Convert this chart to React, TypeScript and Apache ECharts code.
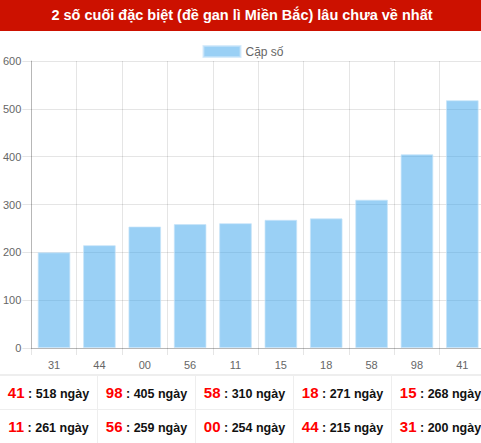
import * as echarts from "echarts";
import { useEffect, useRef } from "react";

const title = "2 số cuối đặc biệt (đề gan lì Miền Bắc) lâu chưa về nhất";
const seriesName = "Cặp số";
const pairs = ["31", "44", "00", "56", "11", "15", "18", "58", "98", "41"];
const days = [200, 215, 254, 259, 261, 268, 271, 310, 405, 518];
const yTicks = [0, 100, 200, 300, 400, 500, 600];

const FONT = '"Liberation Sans", Arial, sans-serif';

const App = () => {
  const chartRef = useRef<HTMLDivElement | null>(null);

  useEffect(() => {
    const chart = echarts.init(chartRef.current!, null, { renderer: "svg" });

    const option = {
      animation: false,
      textStyle: { fontFamily: FONT },
      legend: {
        data: [seriesName],
        top: 9,
        left: "center",
        icon: "rect",
        itemWidth: 37,
        itemHeight: 11,
        itemGap: 6,
        textStyle: { fontSize: 12, color: "#666", fontFamily: FONT },
      },
      grid: { left: 29, right: 1, top: 30, bottom: 26, containLabel: false },
      xAxis: {
        type: "category",
        data: pairs,
        axisLine: { lineStyle: { color: "rgba(0,0,0,0.2)" } },
        axisTick: { show: true, length: 7, lineStyle: { color: "rgba(0,0,0,0.1)" } },
        splitLine: { show: true, lineStyle: { color: "rgba(0,0,0,0.1)" } },
        axisLabel: { color: "#666", fontSize: 11, margin: 11, fontFamily: FONT },
      },
      yAxis: {
        type: "value",
        min: yTicks[0],
        max: yTicks[yTicks.length - 1],
        interval: 100,
        axisLine: { show: true, lineStyle: { color: "rgba(0,0,0,0.2)" } },
        axisTick: { show: true, length: 9, lineStyle: { color: "rgba(0,0,0,0.1)" } },
        splitLine: { show: true, lineStyle: { color: "rgba(0,0,0,0.1)" } },
        axisLabel: { color: "#666", fontSize: 11, margin: 10, fontFamily: FONT },
      },
      series: [
        {
          name: seriesName,
          type: "bar",
          data: days,
          barCategoryGap: "28%",
          itemStyle: {
            color: "rgba(54,162,235,0.5)",
            borderColor: "rgba(200,228,250,0.7)",
            borderWidth: 1,
          },
        },
      ],
    };

    chart.setOption(option);
    return () => {
      chart.dispose();
    };
  }, []);

  // bảng xếp hạng: từ lâu nhất đến ít nhất
  const ranked = pairs.map((p, i) => ({ p, d: days[i] })).reverse();
  const rows = [ranked.slice(0, 5), ranked.slice(5, 10)];

  const cellStyle = (c: number, r: number): React.CSSProperties => ({
    width: 97,
    height: r === 0 ? 33 : 34,
    padding: 0,
    textAlign: "center",
    borderLeft: c === 0 ? "none" : "1px solid #eee",
    borderTop: r === 0 ? "none" : "1px solid #eee",
    whiteSpace: "nowrap",
  });

  return (
    <div
      style={{
        position: "fixed",
        left: 0,
        top: 0,
        width: 481,
        height: 443,
        overflow: "hidden",
        background: "#fff",
        fontFamily: FONT,
      }}
    >
      <div
        style={{
          width: 484,
          height: 31,
          lineHeight: "31px",
          background: "#cc1100",
          color: "#fff",
          fontWeight: "bold",
          fontSize: 14.5,
          textAlign: "center",
        }}
      >
        {title}
      </div>
      <div ref={chartRef} style={{ width: 486, height: 343 }} />
      <table
        style={{
          width: 484,
          borderCollapse: "collapse",
          borderTop: "2px solid #eee",
          tableLayout: "fixed",
        }}
      >
        <tbody>
          {rows.map((row, r) => (
            <tr key={r}>
              {row.map((it, c) => (
                <td key={it.p} style={cellStyle(c, r)}>
                  <span style={{ color: "#f00", fontWeight: "bold", fontSize: 15 }}>{it.p}</span>
                  <span style={{ color: "#111", fontWeight: "bold", fontSize: 12.5 }}> : {it.d} ngày</span>
                </td>
              ))}
            </tr>
          ))}
        </tbody>
      </table>
    </div>
  );
};

export default App;
